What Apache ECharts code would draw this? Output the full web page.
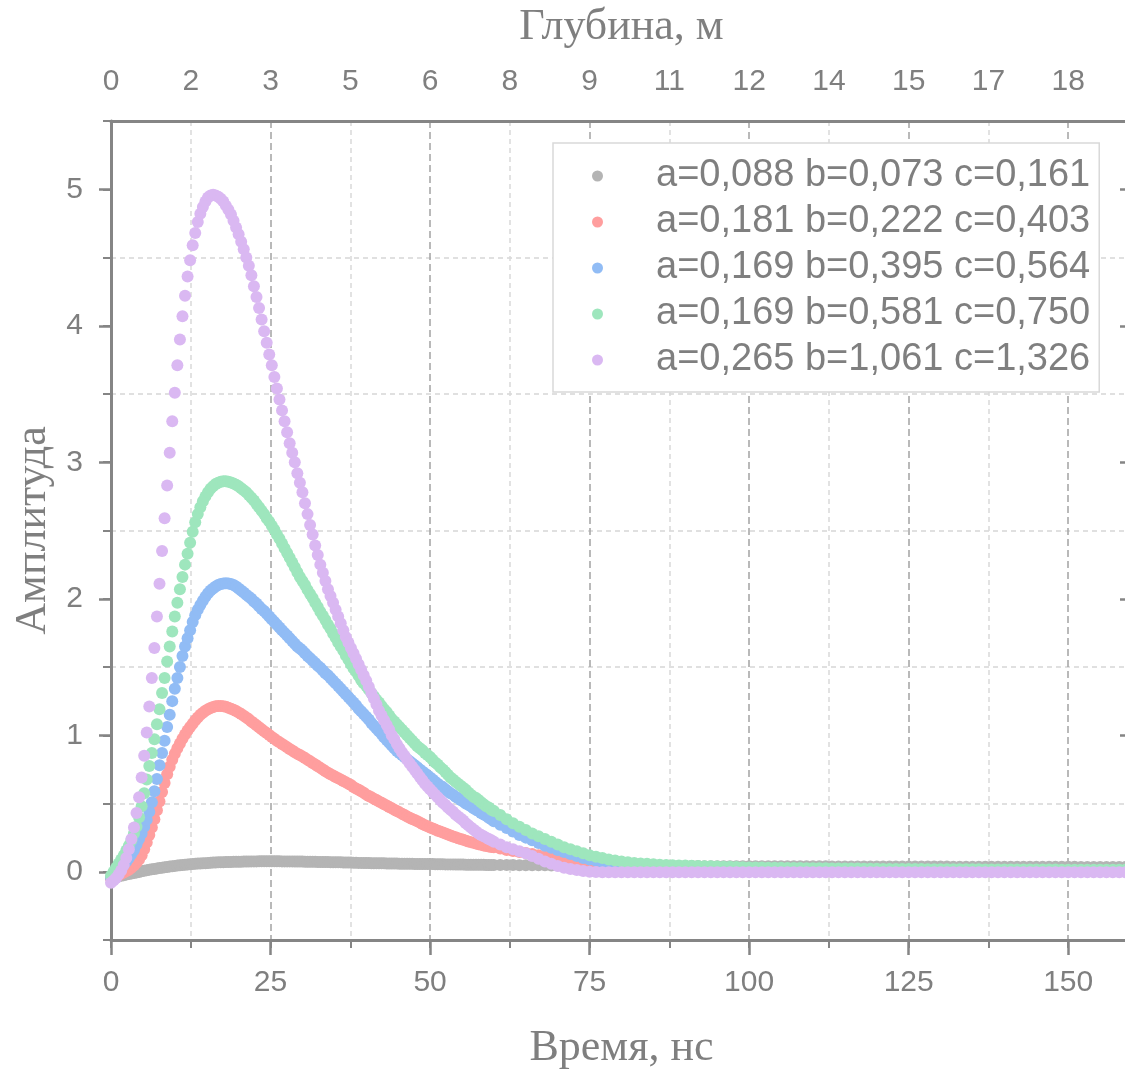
<!DOCTYPE html>
<html>
<head>
<meta charset="utf-8">
<script src="https://cdn.jsdelivr.net/npm/echarts@6/dist/echarts.min.js"></script>
<style>
  html, body { margin: 0; padding: 0; background: #fff; }
  #chart { width: 1125px; height: 1071px; }
</style>
</head>
<body>
<div id="chart"></div>
<script>
// Sample times, ns (0.4 ns steps up to 60 ns, then 1 ns steps)
const times = [
  0,0.4,0.8,1.2,1.6,2,2.4,2.8,3.2,3.6,
  4,4.4,4.8,5.2,5.6,6,6.4,6.8,7.2,7.6,
  8,8.4,8.8,9.2,9.6,10,10.4,10.8,11.2,11.6,
  12,12.4,12.8,13.2,13.6,14,14.4,14.8,15.2,15.6,
  16,16.4,16.8,17.2,17.6,18,18.4,18.8,19.2,19.6,
  20,20.4,20.8,21.2,21.6,22,22.4,22.8,23.2,23.6,
  24,24.4,24.8,25.2,25.6,26,26.4,26.8,27.2,27.6,
  28,28.4,28.8,29.2,29.6,30,30.4,30.8,31.2,31.6,
  32,32.4,32.8,33.2,33.6,34,34.4,34.8,35.2,35.6,
  36,36.4,36.8,37.2,37.6,38,38.4,38.8,39.2,39.6,
  40,40.4,40.8,41.2,41.6,42,42.4,42.8,43.2,43.6,
  44,44.4,44.8,45.2,45.6,46,46.4,46.8,47.2,47.6,
  48,48.4,48.8,49.2,49.6,50,50.4,50.8,51.2,51.6,
  52,52.4,52.8,53.2,53.6,54,54.4,54.8,55.2,55.6,
  56,56.4,56.8,57.2,57.6,58,58.4,58.8,59.2,59.6,
  60,61,62,63,64,65,66,67,68,69,70,
  71,72,73,74,75,76,77,78,79,80,
  81,82,83,84,85,86,87,88,89,90,
  91,92,93,94,95,96,97,98,99,100,
  101,102,103,104,105,106,107,108,109,110,
  111,112,113,114,115,116,117,118,119,120,
  121,122,123,124,125,126,127,128,129,130,
  131,132,133,134,135,136,137,138,139,140,
  141,142,143,144,145,146,147,148,149,150,
  151,152,153,154,155,156,157,158,159,160
];

// Amplitude, a=0,088 b=0,073 c=0,161
const ampGray = [
  -0.045,-0.041,-0.037,-0.033,-0.029,-0.025,-0.021,-0.017,-0.013,-0.009,
  -0.005,-0.001,0.003,0.007,0.011,0.015,0.018,0.021,0.024,0.027,
  0.03,0.033,0.035,0.038,0.041,0.043,0.045,0.047,0.049,0.051,
  0.053,0.055,0.056,0.058,0.06,0.061,0.062,0.063,0.064,0.066,
  0.067,0.068,0.069,0.07,0.07,0.071,0.072,0.072,0.073,0.073,
  0.074,0.074,0.075,0.075,0.075,0.076,0.076,0.076,0.077,0.077,
  0.077,0.077,0.077,0.077,0.077,0.077,0.077,0.076,0.076,0.076,
  0.076,0.076,0.075,0.075,0.075,0.075,0.074,0.074,0.074,0.073,
  0.073,0.072,0.072,0.072,0.071,0.071,0.07,0.07,0.07,0.069,
  0.069,0.068,0.068,0.067,0.067,0.066,0.066,0.065,0.065,0.064,
  0.064,0.064,0.063,0.063,0.063,0.062,0.062,0.062,0.061,0.061,
  0.06,0.06,0.06,0.059,0.059,0.058,0.058,0.058,0.058,0.057,
  0.057,0.057,0.057,0.056,0.056,0.056,0.056,0.055,0.055,0.055,
  0.055,0.054,0.054,0.054,0.054,0.053,0.053,0.053,0.053,0.052,
  0.052,0.052,0.052,0.051,0.051,0.051,0.051,0.05,0.05,0.05,
  0.05,0.05,0.049,0.049,0.048,0.048,0.048,0.047,0.047,0.046,0.046,
  0.046,0.046,0.045,0.045,0.045,0.045,0.044,0.044,0.044,0.044,
  0.044,0.043,0.043,0.043,0.043,0.043,0.042,0.042,0.042,0.042,
  0.042,0.042,0.041,0.041,0.041,0.041,0.041,0.041,0.041,0.041,
  0.04,0.04,0.04,0.04,0.04,0.04,0.04,0.04,0.04,0.04,
  0.04,0.04,0.039,0.039,0.039,0.039,0.039,0.039,0.039,0.039,
  0.039,0.039,0.038,0.038,0.038,0.038,0.038,0.038,0.038,0.038,
  0.038,0.037,0.037,0.037,0.037,0.037,0.037,0.037,0.037,0.037,
  0.037,0.036,0.036,0.036,0.036,0.036,0.036,0.036,0.036,0.036,
  0.036,0.035,0.035,0.035,0.035,0.035,0.035,0.035,0.035,0.035
];

// Amplitude, a=0,181 b=0,222 c=0,403
const ampRed = [
  -0.05,-0.045,-0.035,-0.025,-0.015,-0.005,0.005,0.015,0.03,0.045,
  0.065,0.09,0.12,0.165,0.215,0.27,0.325,0.385,0.45,0.515,
  0.585,0.65,0.715,0.77,0.82,0.865,0.905,0.94,0.975,1.005,
  1.035,1.06,1.085,1.11,1.13,1.15,1.165,1.18,1.19,1.2,
  1.207,1.212,1.215,1.215,1.212,1.208,1.202,1.195,1.187,1.177,
  1.167,1.155,1.143,1.13,1.117,1.1,1.087,1.073,1.058,1.044,
  1.03,1.016,1.002,0.988,0.974,0.96,0.948,0.936,0.924,0.912,
  0.9,0.888,0.876,0.865,0.855,0.845,0.833,0.821,0.809,0.797,
  0.785,0.773,0.761,0.749,0.737,0.725,0.715,0.705,0.695,0.685,
  0.675,0.665,0.655,0.645,0.635,0.62,0.61,0.6,0.59,0.578,
  0.565,0.555,0.545,0.535,0.525,0.515,0.505,0.495,0.485,0.475,
  0.465,0.455,0.445,0.435,0.425,0.415,0.405,0.395,0.387,0.379,
  0.37,0.36,0.35,0.34,0.333,0.325,0.317,0.309,0.301,0.294,
  0.287,0.28,0.273,0.266,0.259,0.252,0.246,0.24,0.234,0.228,
  0.222,0.217,0.212,0.207,0.202,0.197,0.193,0.189,0.185,0.182,
  0.18,0.17,0.16,0.152,0.145,0.137,0.13,0.12,0.11,0.1,0.09,
  0.08,0.07,0.06,0.05,0.042,0.035,0.03,0.025,0.02,0.017,
  0.015,0.014,0.013,0.012,0.01,0.009,0.008,0.008,0.007,0.007,
  0.006,0.006,0.006,0.006,0.005,0.005,0.005,0.005,0.005,0.005,
  0.005,0.005,0.005,0.005,0.005,0.005,0.005,0.005,0.005,0.005,
  0.005,0.005,0.005,0.005,0.005,0.005,0.005,0.005,0.005,0.005,
  0.004,0.004,0.004,0.004,0.004,0.004,0.004,0.004,0.004,0.004,
  0.004,0.004,0.004,0.004,0.004,0.004,0.004,0.004,0.004,0.004,
  0.003,0.003,0.003,0.003,0.003,0.003,0.003,0.003,0.003,0.003,
  0.003,0.003,0.003,0.003,0.003,0.003,0.003,0.003,0.003,0.003
];

// Amplitude, a=0,169 b=0,395 c=0,564
const ampBlue = [
  -0.04,-0.03,-0.015,0,0.025,0.05,0.075,0.1,0.13,0.16,
  0.2,0.24,0.28,0.33,0.38,0.44,0.51,0.59,0.68,0.78,
  0.87,0.96,1.06,1.15,1.25,1.34,1.42,1.5,1.58,1.65,
  1.71,1.77,1.83,1.88,1.92,1.955,1.985,2.015,2.04,2.06,
  2.075,2.09,2.1,2.108,2.112,2.114,2.112,2.108,2.1,2.09,
  2.075,2.06,2.045,2.03,2.015,2,1.98,1.965,1.945,1.925,
  1.91,1.89,1.87,1.85,1.83,1.81,1.79,1.77,1.75,1.73,
  1.71,1.69,1.67,1.65,1.635,1.62,1.6,1.58,1.565,1.545,
  1.53,1.51,1.495,1.475,1.455,1.44,1.42,1.4,1.38,1.36,
  1.34,1.32,1.3,1.28,1.26,1.24,1.22,1.195,1.175,1.155,
  1.135,1.115,1.09,1.07,1.05,1.03,1.01,0.985,0.965,0.945,
  0.925,0.905,0.885,0.87,0.855,0.84,0.825,0.81,0.795,0.78,
  0.765,0.75,0.735,0.72,0.705,0.69,0.675,0.66,0.645,0.63,
  0.62,0.605,0.59,0.575,0.565,0.55,0.54,0.525,0.515,0.5,
  0.49,0.48,0.465,0.455,0.445,0.43,0.42,0.41,0.395,0.385,
  0.37,0.345,0.32,0.295,0.27,0.25,0.23,0.21,0.19,0.175,0.16,
  0.145,0.13,0.115,0.1,0.09,0.08,0.07,0.062,0.055,0.048,
  0.044,0.04,0.037,0.034,0.032,0.03,0.028,0.027,0.026,0.025,
  0.024,0.023,0.022,0.022,0.021,0.02,0.02,0.019,0.019,0.018,
  0.018,0.017,0.017,0.017,0.016,0.016,0.016,0.015,0.015,0.015,
  0.014,0.014,0.014,0.014,0.013,0.013,0.013,0.013,0.012,0.012,
  0.012,0.012,0.012,0.011,0.011,0.011,0.011,0.011,0.011,0.01,
  0.01,0.01,0.01,0.01,0.01,0.01,0.01,0.01,0.01,0.01,
  0.01,0.01,0.009,0.009,0.009,0.009,0.009,0.009,0.009,0.009,
  0.009,0.009,0.009,0.009,0.009,0.008,0.008,0.008,0.008,0.008
];

// Amplitude, a=0,169 b=0,581 c=0,750
const ampGreen = [
  -0.03,0,0.03,0.06,0.09,0.12,0.155,0.19,0.23,0.28,
  0.33,0.4,0.48,0.575,0.675,0.775,0.87,0.97,1.08,1.19,
  1.31,1.42,1.54,1.65,1.76,1.87,1.97,2.07,2.16,2.25,
  2.33,2.41,2.49,2.56,2.62,2.67,2.715,2.75,2.78,2.805,
  2.825,2.84,2.85,2.857,2.86,2.86,2.857,2.852,2.845,2.835,
  2.825,2.81,2.795,2.78,2.76,2.74,2.72,2.695,2.67,2.645,
  2.62,2.59,2.565,2.535,2.505,2.47,2.44,2.405,2.37,2.335,
  2.3,2.265,2.23,2.195,2.16,2.13,2.1,2.065,2.035,2.005,
  1.97,1.94,1.905,1.875,1.845,1.81,1.78,1.745,1.715,1.68,
  1.65,1.62,1.585,1.555,1.52,1.49,1.465,1.435,1.405,1.38,
  1.36,1.335,1.31,1.285,1.26,1.24,1.215,1.19,1.17,1.145,
  1.12,1.1,1.08,1.06,1.04,1.02,1,0.98,0.96,0.94,
  0.92,0.905,0.89,0.87,0.855,0.84,0.82,0.8,0.785,0.765,
  0.75,0.73,0.71,0.69,0.675,0.66,0.645,0.63,0.615,0.6,
  0.58,0.565,0.55,0.54,0.525,0.51,0.495,0.48,0.47,0.455,
  0.445,0.415,0.385,0.355,0.33,0.305,0.28,0.26,0.24,0.22,0.2,
  0.18,0.165,0.15,0.135,0.12,0.11,0.1,0.09,0.082,0.075,
  0.07,0.065,0.061,0.058,0.055,0.052,0.05,0.048,0.046,0.045,
  0.044,0.043,0.041,0.04,0.038,0.037,0.036,0.034,0.033,0.032,
  0.031,0.031,0.03,0.029,0.029,0.028,0.027,0.027,0.026,0.026,
  0.025,0.025,0.024,0.024,0.024,0.023,0.023,0.022,0.022,0.022,
  0.021,0.021,0.021,0.02,0.02,0.02,0.02,0.019,0.019,0.019,
  0.019,0.018,0.018,0.018,0.018,0.018,0.017,0.017,0.017,0.017,
  0.017,0.016,0.016,0.016,0.016,0.016,0.016,0.016,0.015,0.015,
  0.015,0.015,0.015,0.015,0.015,0.015,0.015,0.015,0.015,0.015
];

// Amplitude, a=0,265 b=1,061 c=1,326
const ampPurple = [
  -0.08,-0.065,-0.045,-0.02,0.01,0.05,0.1,0.165,0.24,0.325,
  0.43,0.545,0.69,0.85,1.02,1.21,1.42,1.64,1.87,2.11,
  2.35,2.59,2.83,3.07,3.3,3.51,3.71,3.9,4.07,4.22,
  4.36,4.48,4.59,4.68,4.76,4.82,4.87,4.91,4.94,4.955,
  4.96,4.955,4.945,4.93,4.91,4.88,4.85,4.815,4.77,4.72,
  4.67,4.615,4.56,4.5,4.44,4.37,4.29,4.21,4.13,4.045,
  3.96,3.875,3.79,3.71,3.625,3.54,3.46,3.38,3.3,3.22,
  3.14,3.07,3,2.92,2.85,2.78,2.7,2.62,2.54,2.47,
  2.39,2.32,2.25,2.19,2.13,2.07,2.02,1.97,1.92,1.87,
  1.82,1.77,1.72,1.68,1.64,1.6,1.56,1.52,1.48,1.44,
  1.4,1.355,1.31,1.27,1.225,1.18,1.145,1.11,1.075,1.04,
  1,0.97,0.935,0.905,0.875,0.85,0.82,0.795,0.77,0.745,
  0.72,0.695,0.67,0.645,0.625,0.605,0.585,0.565,0.545,0.525,
  0.505,0.49,0.47,0.455,0.44,0.42,0.405,0.39,0.375,0.355,
  0.34,0.325,0.31,0.295,0.28,0.27,0.26,0.25,0.24,0.23,
  0.22,0.2,0.18,0.165,0.15,0.135,0.115,0.095,0.075,0.058,0.042,
  0.03,0.02,0.012,0.005,0,-0.002,-0.003,-0.004,-0.004,-0.004,
  -0.004,-0.004,-0.004,-0.004,-0.004,-0.004,-0.004,-0.004,-0.004,-0.004,
  -0.004,-0.004,-0.004,-0.004,-0.004,-0.004,-0.004,-0.004,-0.004,-0.004,
  -0.004,-0.004,-0.004,-0.004,-0.004,-0.004,-0.004,-0.004,-0.004,-0.004,
  -0.004,-0.004,-0.004,-0.004,-0.004,-0.004,-0.004,-0.004,-0.004,-0.004,
  -0.003,-0.003,-0.003,-0.003,-0.003,-0.003,-0.003,-0.003,-0.003,-0.003,
  -0.003,-0.003,-0.003,-0.003,-0.003,-0.003,-0.003,-0.003,-0.003,-0.003,
  -0.003,-0.003,-0.003,-0.003,-0.003,-0.003,-0.003,-0.003,-0.003,-0.003,
  -0.003,-0.003,-0.003,-0.003,-0.003,-0.003,-0.003,-0.003,-0.003,-0.003
];

const seriesNames = [
  'a=0,088 b=0,073 c=0,161',
  'a=0,181 b=0,222 c=0,403',
  'a=0,169 b=0,395 c=0,564',
  'a=0,169 b=0,581 c=0,750',
  'a=0,265 b=1,061 c=1,326'
];
const seriesColors = ['#b4b4b4', '#ff9e9e', '#91bcf5', '#9ee6bd', '#dab8f2'];
const seriesValues = [ampGray, ampRed, ampBlue, ampGreen, ampPurple];

// Depth labels for the top axis, one per 12.5 ns
const depthLabels = ['0','2','3','5','6','8','9','11','12','14','15','17','18'];
const amplitudeTicks = [0, 1, 2, 3, 4, 5];

const axisGray = '#858585';
const textGray = '#7f7f7f';
const sansFont = 'Liberation Sans, Arial, sans-serif';
const serifFont = 'Liberation Serif, Times New Roman, serif';

const gridBox = { left: 111, right: -7, top: 121, bottom: 131, outerBoundsMode: 'none' };

const chart = echarts.init(document.getElementById('chart'), null, { renderer: 'canvas' });

const option = {
  animation: false,
  backgroundColor: '#ffffff',
  grid: [Object.assign({}, gridBox), Object.assign({}, gridBox)],
  legend: {
    data: seriesNames,
    orient: 'vertical',
    left: 553,
    top: 143,
    padding: [13, 9, 12, 39],
    itemGap: 6,
    itemWidth: 11,
    itemHeight: 11,
    icon: 'circle',
    selectedMode: false,
    backgroundColor: '#ffffff',
    borderColor: '#d9d9d9',
    borderWidth: 1.5,
    textStyle: {
      fontFamily: sansFont,
      fontSize: 38,
      lineHeight: 40,
      color: textGray,
      padding: [0, 0, 0, 48]
    },
    z: 10
  },
  xAxis: [
    {
      // time, bottom
      gridIndex: 0,
      type: 'value',
      position: 'bottom',
      min: 0,
      max: 160,
      interval: 25,
      name: 'Время, нс',
      nameLocation: 'middle',
      nameGap: 86,
      nameTextStyle: { fontFamily: serifFont, fontSize: 44, color: textGray },
      axisLine: { show: true, onZero: false, lineStyle: { color: axisGray, width: 3 } },
      axisTick: { show: true, length: 15, lineStyle: { color: axisGray, width: 2.5 } },
      axisLabel: {
        margin: 28,
        fontFamily: sansFont,
        fontSize: 30,
        color: textGray,
        formatter: v => (v % 25 === 0 ? String(v) : '')
      },
      splitLine: { show: true, lineStyle: { color: '#a3a3a3', width: 1.5, type: [7, 4] } }
    },
    {
      // depth, top
      gridIndex: 0,
      type: 'value',
      position: 'top',
      min: 0,
      max: 160,
      interval: 12.5,
      name: 'Глубина, м',
      nameLocation: 'middle',
      nameGap: 72,
      nameTextStyle: { fontFamily: serifFont, fontSize: 44, color: textGray },
      axisLine: { show: true, onZero: false, lineStyle: { color: axisGray, width: 3 } },
      axisTick: { show: false },
      axisLabel: {
        margin: 24,
        fontFamily: sansFont,
        fontSize: 30,
        color: textGray,
        formatter: v => {
          const k = v / 12.5;
          return Number.isInteger(k) && depthLabels[k] !== undefined ? depthLabels[k] : '';
        }
      },
      splitLine: { show: false }
    },
    {
      // minor time ticks and light grid
      gridIndex: 1,
      type: 'value',
      position: 'bottom',
      min: 0,
      max: 160,
      interval: 12.5,
      axisLine: { show: false, onZero: false },
      axisTick: { show: true, length: 8, lineStyle: { color: axisGray, width: 2 } },
      axisLabel: { show: false },
      splitLine: {
        show: true,
        lineStyle: { color: ['rgba(0,0,0,0)', '#d9d9d9'], width: 1.5, type: [5, 4] }
      }
    }
  ],
  yAxis: [
    {
      gridIndex: 0,
      type: 'value',
      position: 'left',
      min: -0.5,
      max: 5.5,
      interval: 0.5,
      name: 'Амплитуда',
      nameLocation: 'middle',
      nameGap: 54,
      nameRotate: 90,
      nameTextStyle: { fontFamily: serifFont, fontSize: 44, color: textGray },
      axisLine: { show: true, onZero: false, lineStyle: { color: axisGray, width: 3 } },
      axisTick: {
        show: true,
        length: 12,
        customValues: amplitudeTicks,
        lineStyle: { color: axisGray, width: 2.5 }
      },
      axisLabel: {
        margin: 28,
        fontFamily: sansFont,
        fontSize: 30,
        color: textGray,
        customValues: amplitudeTicks
      },
      splitLine: { show: false }
    },
    {
      gridIndex: 0,
      type: 'value',
      position: 'right',
      min: -0.5,
      max: 5.5,
      interval: 0.5,
      axisLine: { show: true, onZero: false, lineStyle: { color: axisGray, width: 3 } },
      axisTick: {
        show: true,
        inside: true,
        length: 12,
        customValues: amplitudeTicks,
        lineStyle: { color: axisGray, width: 2.5 }
      },
      axisLabel: { show: false },
      splitLine: { show: false }
    },
    {
      // minor amplitude ticks and the dashed grid at half-units
      gridIndex: 1,
      type: 'value',
      position: 'left',
      min: -0.5,
      max: 5.5,
      interval: 0.5,
      axisLine: { show: false, onZero: false },
      axisTick: { show: true, length: 8, lineStyle: { color: axisGray, width: 2 } },
      axisLabel: { show: false },
      splitLine: {
        show: true,
        lineStyle: { color: ['#d6d6d6', 'rgba(0,0,0,0)'], width: 1.5, type: [5, 4] }
      }
    }
  ],
  series: seriesNames.map((name, s) => ({
    name: name,
    type: 'scatter',
    xAxisIndex: 0,
    yAxisIndex: 0,
    symbol: 'circle',
    symbolSize: 12,
    silent: true,
    itemStyle: { color: seriesColors[s], opacity: 1 },
    emphasis: { disabled: true },
    data: times.map((t, i) => [t, seriesValues[s][i]])
  }))
};

chart.setOption(option);
</script>
</body>
</html>
